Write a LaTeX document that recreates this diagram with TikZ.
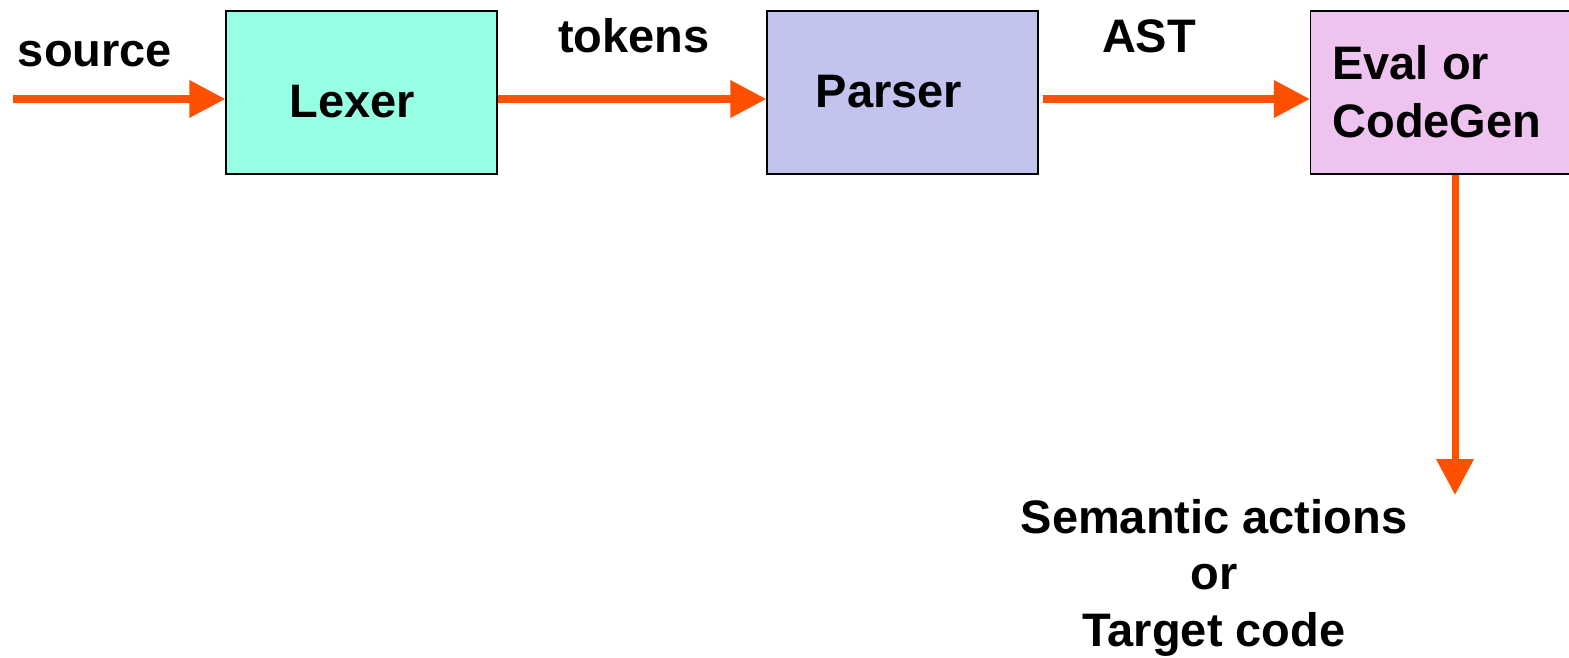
\documentclass[tikz,border=0pt]{standalone}
\usepackage{fontspec}
\setmainfont{Liberation Sans}
\usepackage{xcolor}
\usetikzlibrary{arrows.meta}
\definecolor{flow}{RGB}{255,80,0}
\definecolor{lexfill}{RGB}{150,255,228}
\definecolor{parsefill}{RGB}{195,195,240}
\definecolor{evalfill}{RGB}{238,195,240}

\begin{document}
\begin{tikzpicture}[x=0.02cm, y=-0.02cm,
  stage/.style={draw=black, line width=0.8pt, minimum height=3.26cm, minimum width=5.42cm, inner sep=0pt},
  word/.style={font=\fontsize{26.75}{33}\selectfont\bfseries, inner sep=0pt, anchor=base},
  flowarrow/.style={flow, line width=4pt, -{Triangle[length=0.72cm, width=0.72cm]}}]
\useasboundingbox (0,0) rectangle (1569,657);

% the three stages
\node[stage, fill=lexfill] (lexer) at (361.5,92.5) {};
\node[stage, fill=parsefill] (parser) at (902.5,92.5) {};
\node[stage, fill=evalfill] (eval) at (1446,92.5) {};

\node[word] (lexlbl) at (352,117) {Lexer};
\node[word] (parselbl) at (889,107) {Parser};
\node[word, align=left, anchor=base west] (evallbl) at (1332,137) {Eval or\\CodeGen};

% data flowing between them
\coordinate (in) at (13,99);
\coordinate (out) at (1455,495);
\draw[flowarrow] (in) -- (in -| lexer.west);
\draw[flowarrow] (lexer.east |- in) -- (parser.west |- in);
\draw[flowarrow] ([xshift=0.08cm]parser.east |- in) -- (eval.west |- in);
\draw[flowarrow] (out |- eval.south) -- (out);

\node[word] (srclbl) at (95,66) {source};
\node[word] (toklbl) at (634,52) {tokens};
\node[word] (astlbl) at (1149,52) {AST};
\node[word, align=center, font=\fontsize{26.75}{32}\selectfont\bfseries] (result) at (1214,646) {Semantic actions\\or\\Target code};
\end{tikzpicture}
\end{document}
